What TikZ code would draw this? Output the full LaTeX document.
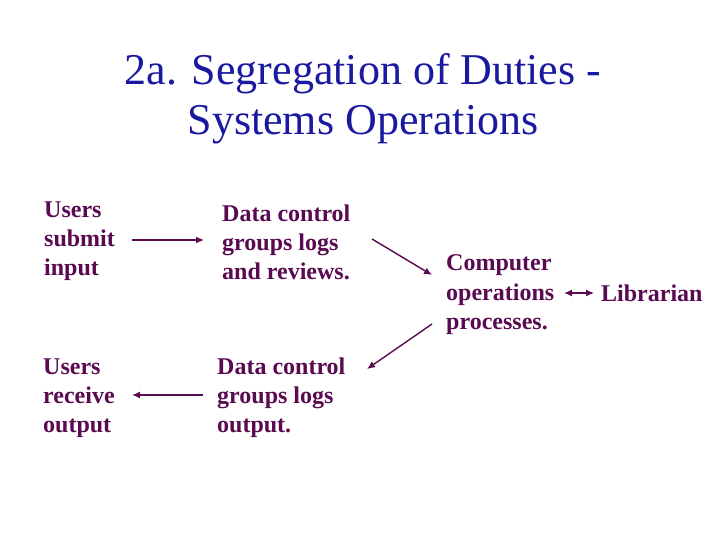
\documentclass[tikz,border=0pt]{standalone}
\usepackage{fontspec}
\setmainfont{Liberation Serif}
\usetikzlibrary{arrows.meta}
\definecolor{plum}{RGB}{90,10,80}
\definecolor{titleblue}{RGB}{26,26,160}
\begin{document}
\begin{tikzpicture}[x=1bp,y=-1bp,
  txt/.style={anchor=base west,inner sep=0pt,align=left,text=plum,
    font=\fontsize{24bp}{29bp}\selectfont\bfseries},
  link/.style={draw=plum,line width=1.4bp,-{Latex[length=8bp,width=7bp]}},
  both/.style={link,{Latex[length=8bp,width=7bp]}-{Latex[length=8bp,width=7bp]}}]
\useasboundingbox[fill=white] (0,0) rectangle (720,540);
\node[anchor=base,inner sep=0pt,align=center,text=titleblue,
  font=\fontsize{44bp}{50bp}\selectfont] (title) at (363,135)
  {2a. Segregation of Duties -\\Systems Operations};
\node[txt] (submit) at (44,276) {Users\\submit\\input};
\node[txt] (logs) at (222,280) {Data control\\groups logs\\and reviews.};
\node[txt] (receive) at (43,432) {Users\\receive\\output};
\node[txt] (output) at (217,432) {Data control\\groups logs\\output.};
\node[txt] (ops) at (446,329) {Computer\\operations\\processes.};
\node[txt] (lib) at (601,301) {Librarian};
\coordinate (a1) at (132,240);
\coordinate (a2) at (204,240);
\coordinate (b1) at (203,395);
\coordinate (b2) at (132,395);
\coordinate (c1) at (372,239);
\coordinate (c2) at (432,275);
\coordinate (d1) at (432,324);
\coordinate (d2) at (367,369);
\coordinate (e1) at (564,293);
\coordinate (e2) at (594,293);
\draw[link] (a1) -- (a2);
\draw[link] (b1) -- (b2);
\draw[link] (c1) -- (c2);
\draw[link] (d1) -- (d2);
\draw[both] (e1) -- (e2);
\end{tikzpicture}
\end{document}
